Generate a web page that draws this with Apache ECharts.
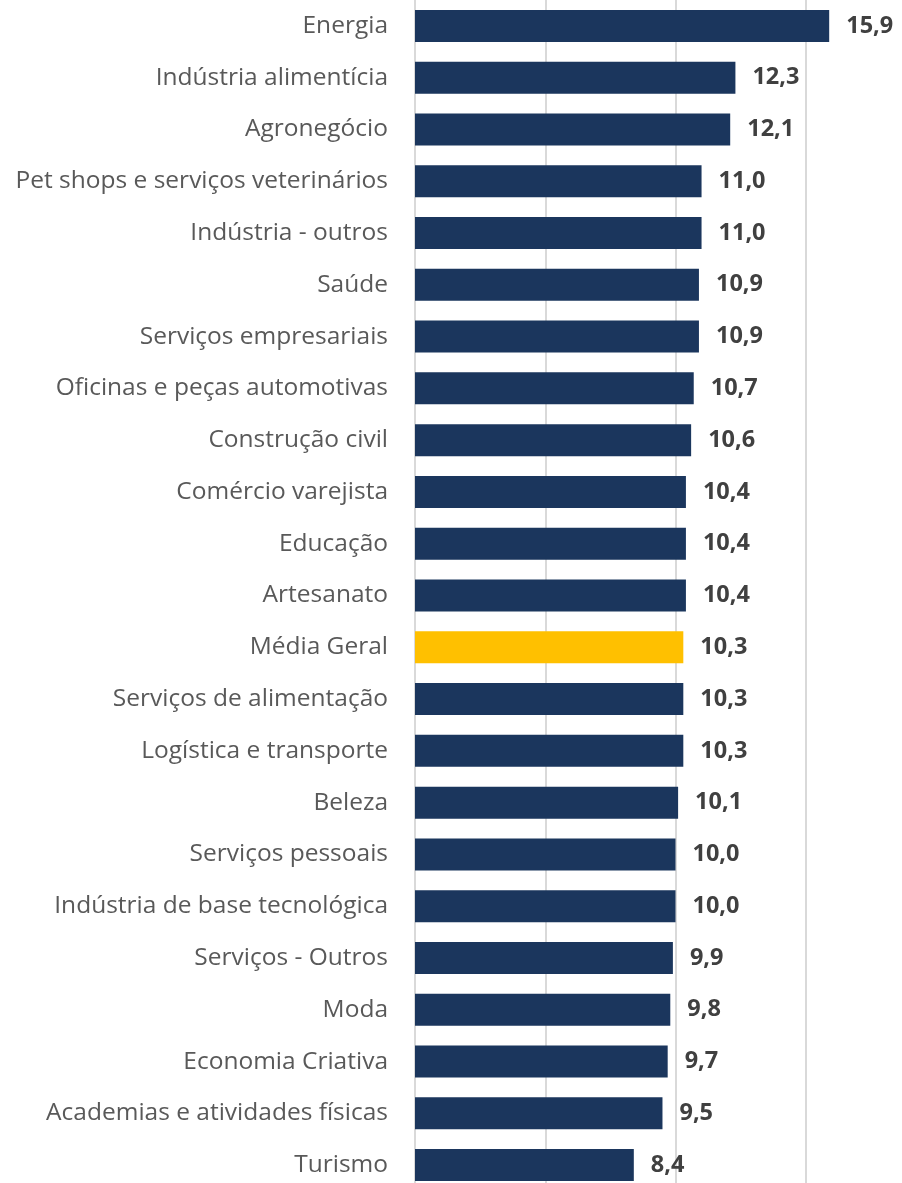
<!DOCTYPE html>
<html>
<head>
<meta charset="utf-8">
<script src="https://cdn.jsdelivr.net/npm/echarts@6/dist/echarts.min.js"></script>
<style>
  html, body { margin: 0; padding: 0; background: #fff; overflow: hidden; }
  /* canvas runs past the right/bottom edge so the 20-unit gridline falls outside the view */
  #chart { width: 950px; height: 1200px; }
</style>
</head>
<body>
<div id="chart"></div>
<script>
// Sectors, top to bottom
const categories = [
  'Energia', 'Indústria alimentícia', 'Agronegócio', 'Pet shops e serviços veterinários',
  'Indústria - outros', 'Saúde', 'Serviços empresariais', 'Oficinas e peças automotivas',
  'Construção civil', 'Comércio varejista', 'Educação', 'Artesanato', 'Média Geral',
  'Serviços de alimentação', 'Logística e transporte', 'Beleza', 'Serviços pessoais',
  'Indústria de base tecnológica', 'Serviços - Outros', 'Moda', 'Economia Criativa',
  'Academias e atividades físicas', 'Turismo'
];
const values = [
  15.9, 12.3, 12.1, 11.0, 11.0, 10.9, 10.9, 10.7, 10.6, 10.4, 10.4, 10.4, 10.3,
  10.3, 10.3, 10.1, 10.0, 10.0, 9.9, 9.8, 9.7, 9.5, 8.4
];
const highlight = 'Média Geral';

const NAVY = '#1b365d';
const GOLD = '#ffc000';

const chart = echarts.init(document.getElementById('chart'), null, { renderer: 'canvas' });
chart.setOption({
  animation: false,
  backgroundColor: '#ffffff',
  grid: { left: 415, top: 0, width: 521, height: 1191, containLabel: false },
  xAxis: {
    type: 'value', min: 0, max: 20, interval: 5,
    axisLabel: { show: false }, axisTick: { show: false }, axisLine: { show: false },
    splitLine: { show: true, lineStyle: { color: '#d9d9d9', width: 2 } }
  },
  yAxis: {
    type: 'category', data: categories, inverse: true,
    axisTick: { show: false },
    axisLine: { show: true, lineStyle: { color: '#d9d9d9', width: 2 } },
    axisLabel: { color: '#595959', fontFamily: 'Open Sans', fontSize: 24.5, margin: 27 }
  },
  series: [{
    type: 'bar', barWidth: 32,
    data: values.map((v, i) => ({
      value: v,
      itemStyle: { color: categories[i] === highlight ? GOLD : NAVY }
    })),
    label: {
      show: true, position: 'right', distance: 17,
      color: '#404040', fontFamily: 'Open Sans', fontWeight: 'bold', fontSize: 23.5,
      formatter: p => p.value.toFixed(1).replace('.', ',')
    }
  }]
});
</script>
</body>
</html>
